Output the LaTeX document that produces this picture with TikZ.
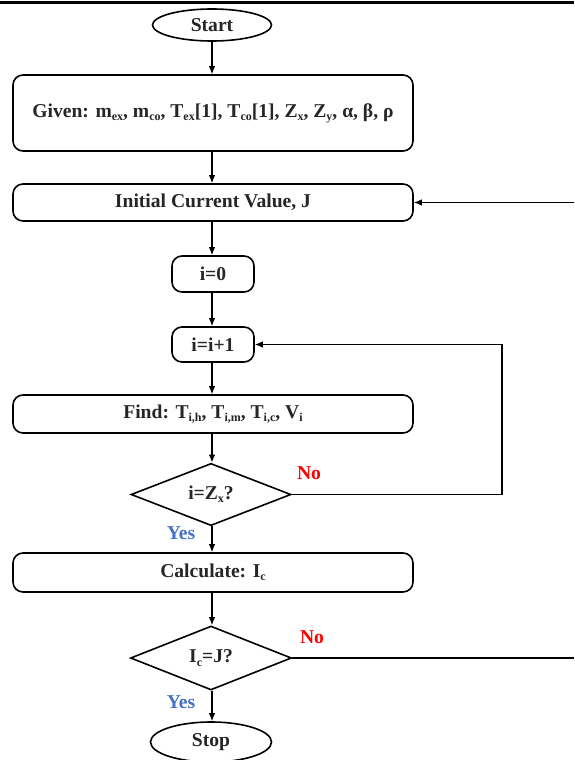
\documentclass[tikz,border=0pt]{standalone}
\usepackage{fontspec}
\setmainfont{Liberation Serif}
\usetikzlibrary{shapes.geometric,arrows.meta}
\newcommand{\lsub}[1]{\raisebox{-0.35ex}{\fontsize{12}{12}\selectfont #1}}
\definecolor{noRed}{RGB}{255,0,0}
\definecolor{yesBlue}{RGB}{68,114,196}
\begin{document}
\begin{tikzpicture}[x=1pt,y=-1pt,
  txt/.style={font=\bfseries\fontsize{19.6}{22}\selectfont, text=black!85},
  box/.style={txt, draw, line width=1.6pt, rounded corners=10pt, inner sep=0pt},
  term/.style={txt, draw, ellipse, line width=1.6pt, inner sep=0pt},
  dec/.style={txt, draw, diamond, line width=1.6pt, inner sep=0pt},
  arr/.style={line width=1.2pt, -{Latex[length=8pt,width=6.5pt]}},
  ln/.style={line width=1.2pt},
  nolab/.style={font=\bfseries\fontsize{19.6}{22}\selectfont, text=noRed},
  yeslab/.style={font=\bfseries\fontsize{19.6}{22}\selectfont, text=yesBlue}]
\useasboundingbox (0,0) rectangle (574,760);
\draw[line width=3pt] (0,3) -- (574,3);

\node[term, minimum width=119pt, minimum height=32pt] (start) at (212,25) {Start};
\node[box, minimum width=400pt, minimum height=76pt] (given) at (213,113)
  {Given: m\lsub{ex}, m\lsub{co}, T\lsub{ex}[1], T\lsub{co}[1], Z\lsub{x}, Z\lsub{y}, α, β, ρ};
\node[box, minimum width=400pt, minimum height=37pt] (init) at (213,202.5) {Initial Current Value, J};
\node[box, minimum width=82pt, minimum height=36pt] (izero) at (213,274) {i=0};
\node[box, minimum width=82pt, minimum height=35pt] (iinc) at (213,344.5) {i=i+1};
\node[box, minimum width=400pt, minimum height=38pt] (find) at (213,414)
  {Find: T\lsub{i,h}, T\lsub{i,m}, T\lsub{i,c}, V\lsub{i}};
\node[dec, minimum width=160pt, minimum height=57pt] (d1) at (211,494.5) {i=Z\lsub{x}?};
\node[box, minimum width=400pt, minimum height=39pt] (calc) at (213,572.5) {Calculate: I\lsub{c}};
\node[dec, minimum width=161pt, minimum height=64pt] (d2) at (211,658) {I\lsub{c}=J?};
\node[term, minimum width=121pt, minimum height=40pt] (stop) at (211,742) {Stop};

\draw[arr] (start) -- (start |- given.north);
\draw[arr] (given.south -| start) -- (start |- init.north);
\draw[arr] (init.south -| start) -- (start |- izero.north);
\draw[arr] (izero.south -| start) -- (start |- iinc.north);
\draw[arr] (iinc.south -| start) -- (start |- find.north);
\draw[arr] (find.south -| start) -- (start |- d1.north);
\draw[arr] (d1.south -| start) -- (start |- calc.north);
\draw[arr] (calc.south -| start) -- (start |- d2.north);
\draw[arr] (d2.south -| start) -- (start |- stop.north);

\coordinate (r1) at (502,494.5);
\draw[arr] (d1.east) -- (r1) |- (iinc.east);
\coordinate (r2a) at (574,658);
\coordinate (r2b) at (574,202.5);
\draw[ln] (d2.east) -- (r2a);
\draw[arr] (r2b) -- (init.east);

\node[nolab] (no1) at (309,473) {No};
\node[nolab] (no2) at (312,637) {No};
\node[yeslab] (yes1) at (181,533) {Yes};
\node[yeslab] (yes2) at (181,702) {Yes};
\end{tikzpicture}
\end{document}
